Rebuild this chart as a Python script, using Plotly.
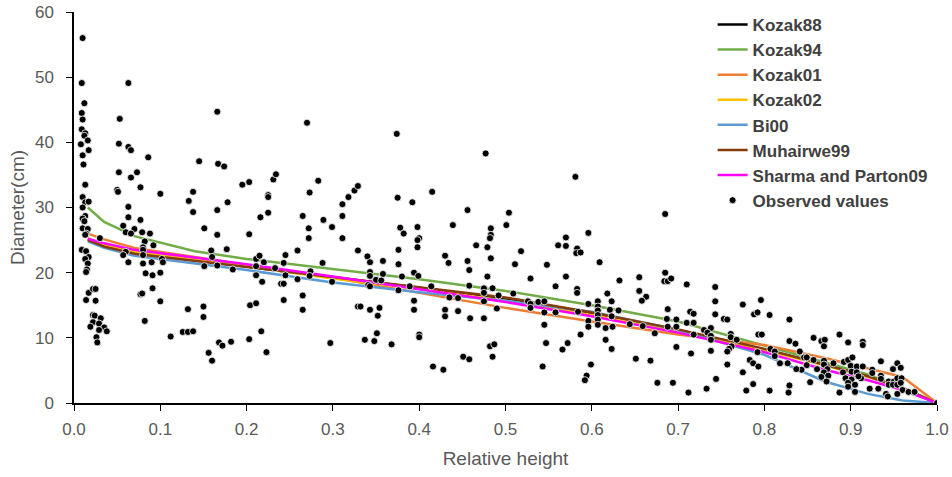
import plotly.graph_objects as go

# ---------------- data ----------------
model_h = [0.016, 0.035, 0.07, 0.14, 0.2, 0.3, 0.4, 0.5, 0.6, 0.7, 0.8, 0.87, 0.92, 0.96, 1.0]
kozak88 = [25.1, 24.1, 23.0, 21.9, 20.9, 19.3, 17.7, 16.0, 13.8, 11.2, 8.2, 5.9, 4.1, 2.3, 0.0]
kozak94 = [30.0, 27.8, 25.6, 23.3, 22.1, 20.6, 19.0, 17.2, 15.0, 12.5, 8.8, 6.3, 4.4, 2.2, 0.0]
kozak01 = [26.0, 25.1, 23.8, 22.4, 21.2, 19.2, 16.9, 14.6, 12.5, 10.5, 8.9, 6.9, 5.3, 4.0, 0.0]
kozak02 = [25.3, 24.3, 23.2, 22.0, 21.0, 19.1, 17.5, 15.7, 13.5, 11.0, 8.1, 5.8, 4.0, 2.3, 0.0]
bi00 = [24.8, 23.8, 22.6, 21.4, 20.4, 18.5, 17.0, 15.7, 14.0, 11.2, 7.4, 3.3, 1.4, 0.4, 0.0]
muhairwe99 = [25.0, 24.0, 22.9, 21.8, 20.9, 19.3, 17.8, 16.2, 13.9, 11.3, 8.3, 5.9, 4.1, 2.3, 0.0]
sharma09 = [25.2, 24.5, 23.5, 22.3, 21.3, 19.4, 17.4, 15.5, 13.3, 10.8, 7.8, 5.1, 3.5, 2.0, 0.0]

obs_h = [
    0.010, 0.009, 0.063, 0.012, 0.009, 0.010, 0.053, 0.166, 0.009, 0.013, 0.012, 0.016, 0.008, 0.017, 0.010,
    0.052, 0.063, 0.066, 0.086, 0.145, 0.167, 0.011, 0.052, 0.073, 0.066, 0.077, 0.013, 0.100, 0.050, 0.051,
    0.138, 0.133, 0.138, 0.010, 0.013, 0.017, 0.010, 0.013, 0.010, 0.012, 0.063, 0.063, 0.077, 0.057, 0.060,
    0.070, 0.066, 0.079, 0.088, 0.151, 0.166, 0.166, 0.010, 0.016, 0.014, 0.013, 0.030, 0.009, 0.014, 0.017,
    0.013, 0.016, 0.015, 0.014, 0.082, 0.080, 0.092, 0.060, 0.057, 0.080, 0.080, 0.063, 0.080, 0.090, 0.102,
    0.103, 0.083, 0.091, 0.100, 0.091, 0.100, 0.077, 0.079, 0.082, 0.151, 0.159, 0.160, 0.166, 0.150, 0.150,
    0.132, 0.112, 0.126, 0.132, 0.138, 0.156, 0.160, 0.168, 0.017, 0.022, 0.025, 0.014, 0.025, 0.022, 0.024,
    0.031, 0.022, 0.029, 0.019, 0.035, 0.029, 0.038, 0.026, 0.027,
    0.270, 0.174, 0.195, 0.203, 0.231, 0.234, 0.283, 0.178, 0.225, 0.225, 0.273, 0.216, 0.225, 0.265, 0.272,
    0.272, 0.289, 0.299, 0.311, 0.311, 0.318, 0.325, 0.329, 0.311, 0.329, 0.203, 0.177, 0.211, 0.215, 0.220,
    0.211, 0.211, 0.218, 0.245, 0.243, 0.233, 0.245, 0.259, 0.259, 0.240, 0.243, 0.274, 0.273, 0.288, 0.299,
    0.184, 0.243, 0.265, 0.265, 0.204, 0.211, 0.329, 0.217, 0.203, 0.172, 0.182, 0.223, 0.297,
    0.374, 0.477, 0.415, 0.375, 0.392, 0.456, 0.439, 0.378, 0.382, 0.398, 0.400, 0.398, 0.398, 0.376, 0.376,
    0.340, 0.343, 0.358, 0.343, 0.343, 0.358, 0.350, 0.356, 0.341, 0.343, 0.380, 0.394, 0.399, 0.389, 0.376,
    0.414, 0.430, 0.434, 0.456, 0.458, 0.483, 0.483, 0.482, 0.479, 0.483, 0.479, 0.466, 0.458, 0.475, 0.475,
    0.485, 0.492, 0.475, 0.490, 0.435, 0.445, 0.394, 0.394, 0.430, 0.430, 0.445, 0.459, 0.475, 0.332, 0.343,
    0.354, 0.352, 0.351, 0.337, 0.348, 0.368, 0.400, 0.400, 0.416, 0.428, 0.451, 0.458, 0.482, 0.487, 0.485,
    0.581, 0.504, 0.501, 0.570, 0.561, 0.570, 0.583, 0.582, 0.587, 0.596, 0.518, 0.511, 0.548, 0.529, 0.570,
    0.609, 0.558, 0.583, 0.583, 0.632, 0.655, 0.655, 0.509, 0.526, 0.529, 0.529, 0.538, 0.545, 0.545, 0.558,
    0.584, 0.596, 0.607, 0.607, 0.607, 0.607, 0.607, 0.607, 0.596, 0.596, 0.618, 0.623, 0.621, 0.623, 0.631,
    0.616, 0.624, 0.644, 0.545, 0.587, 0.547, 0.572, 0.566, 0.616, 0.623, 0.651, 0.543, 0.599, 0.594, 0.592,
    0.685, 0.685, 0.684, 0.688, 0.692, 0.710, 0.743, 0.663, 0.658, 0.688, 0.714, 0.718, 0.743, 0.743, 0.775,
    0.788, 0.792, 0.796, 0.806, 0.687, 0.698, 0.710, 0.718, 0.688, 0.698, 0.659, 0.673, 0.738, 0.730, 0.734,
    0.738, 0.738, 0.753, 0.757, 0.761, 0.761, 0.768, 0.793, 0.797, 0.718, 0.698, 0.715, 0.762, 0.759, 0.757,
    0.738, 0.807, 0.812, 0.812, 0.792, 0.783, 0.787, 0.793, 0.818, 0.668, 0.757, 0.775, 0.676, 0.694, 0.744,
    0.733, 0.712, 0.779, 0.787, 0.806,
    0.829, 0.829, 0.836, 0.857, 0.866, 0.870, 0.869, 0.887, 0.897, 0.914, 0.914, 0.841, 0.846, 0.849, 0.857,
    0.849, 0.843, 0.837, 0.827, 0.869, 0.869, 0.861, 0.873, 0.880, 0.892, 0.897, 0.902, 0.900, 0.907, 0.914,
    0.869, 0.874, 0.866, 0.872, 0.853, 0.891, 0.901, 0.907, 0.894, 0.901, 0.897, 0.905, 0.912, 0.909, 0.897,
    0.905, 0.887, 0.829, 0.828, 0.925, 0.925, 0.935, 0.935, 0.935, 0.922, 0.932, 0.944, 0.950, 0.954, 0.959,
    0.949, 0.954, 0.958, 0.944, 0.949, 0.954, 0.958, 0.960, 0.954, 0.941, 0.943, 0.967, 0.974, 1.000,
]
obs_d = [
    56.0, 49.1, 49.1, 46.0, 44.5, 43.5, 43.6, 44.7, 42.0, 41.4, 41.0, 40.3, 39.7, 38.8, 38.0,
    39.8, 39.3, 38.8, 37.7, 37.1, 36.7, 36.6, 35.4, 35.4, 34.6, 33.1, 33.5, 32.1, 32.7, 32.4,
    32.4, 31.0, 29.3, 31.6, 30.8, 30.9, 30.0, 28.7, 28.3, 27.9, 30.1, 28.5, 28.1, 27.2, 26.2,
    26.7, 26.0, 26.2, 26.0, 26.8, 29.6, 25.8, 26.8, 26.7, 26.0, 25.8, 25.3, 23.5, 23.3, 22.4,
    22.1, 21.4, 20.5, 20.1, 24.8, 23.9, 24.2, 23.2, 22.7, 23.5, 22.7, 21.6, 21.4, 21.6, 22.1,
    21.6, 19.9, 19.6, 20.0, 17.6, 15.6, 16.7, 16.8, 12.6, 21.0, 23.4, 22.4, 21.1, 14.8, 13.2,
    14.4, 10.2, 10.9, 10.9, 11.0, 7.7, 6.5, 9.3, 16.9, 17.5, 17.5, 15.8, 15.7, 13.5, 13.4,
    13.0, 12.4, 12.2, 11.7, 11.6, 11.2, 11.0, 10.1, 9.3,
    43.0, 36.3, 33.5, 33.9, 34.3, 35.1, 34.1, 30.8, 31.9, 31.6, 32.3, 28.5, 29.2, 28.7, 26.8,
    25.3, 28.1, 27.0, 28.7, 30.5, 31.6, 32.6, 33.3, 25.3, 23.4, 25.9, 23.6, 22.1, 22.6, 21.6,
    21.0, 19.6, 18.6, 22.7, 21.5, 20.7, 19.6, 23.4, 19.0, 18.3, 18.3, 20.2, 19.5, 21.5, 18.6,
    20.5, 15.8, 16.5, 14.3, 15.0, 15.3, 14.8, 11.0, 9.8, 8.8, 9.4, 7.8, 9.2,
    41.3, 38.3, 32.4, 31.5, 30.8, 29.6, 27.3, 26.9, 26.0, 27.0, 25.3, 25.0, 23.9, 23.5, 21.3,
    22.5, 21.6, 21.8, 20.1, 19.5, 19.8, 18.9, 18.8, 18.1, 17.9, 19.4, 20.0, 19.5, 17.9, 17.3,
    17.9, 22.6, 21.5, 21.8, 20.4, 26.8, 25.8, 25.3, 23.9, 22.2, 19.4, 24.2, 18.0, 17.6, 16.9,
    17.6, 16.5, 15.6, 14.5, 16.2, 16.1, 15.7, 14.3, 14.3, 13.3, 14.1, 13.0, 13.0, 14.8, 14.3,
    14.6, 13.4, 10.7, 9.7, 9.5, 9.0, 10.5, 10.1, 5.6, 5.1, 7.1, 6.7, 8.7, 9.0, 7.1,
    34.7, 29.2, 27.3, 25.4, 24.2, 24.1, 23.7, 23.0, 23.1, 26.1, 23.3, 21.3, 21.2, 19.1, 19.4,
    21.6, 17.9, 17.5, 16.9, 18.8, 19.3, 17.2, 16.8, 15.6, 15.2, 14.6, 15.5, 15.6, 13.9, 13.9,
    14.0, 15.2, 15.6, 14.8, 14.2, 13.5, 12.8, 12.0, 12.6, 11.7, 16.8, 15.6, 14.3, 13.3, 14.2,
    11.5, 11.7, 12.1, 12.0, 10.5, 9.2, 9.2, 8.2, 9.7, 8.3, 6.8, 5.6, 5.9, 4.2, 3.5,
    29.0, 20.0, 18.7, 18.7, 19.1, 18.2, 17.8, 16.3, 15.7, 14.4, 14.0, 13.7, 15.6, 13.6, 15.1,
    13.6, 13.9, 15.8, 13.5, 12.9, 12.8, 12.3, 12.3, 11.7, 11.7, 11.8, 10.7, 11.5, 11.2, 10.8,
    10.3, 9.7, 12.9, 12.8, 10.6, 10.1, 9.7, 10.5, 10.5, 10.5, 8.6, 7.6, 8.7, 8.3, 7.9,
    8.0, 8.3, 7.9, 7.2, 7.8, 6.6, 6.1, 5.6, 6.1, 6.5, 5.9, 4.7, 3.1, 3.1, 3.7,
    2.2, 1.6, 1.9, 2.9, 1.9,
    12.8, 9.5, 9.1, 10.0, 9.5, 9.7, 8.7, 10.5, 9.3, 9.4, 8.9, 7.9, 7.0, 7.0, 6.6,
    5.8, 5.1, 5.2, 6.1, 6.5, 5.9, 5.2, 5.2, 6.1, 6.3, 6.6, 7.0, 5.7, 5.6, 5.6,
    4.7, 4.2, 4.0, 3.3, 3.2, 4.7, 4.8, 4.7, 3.8, 3.6, 3.1, 2.8, 3.8, 4.1, 2.5,
    1.7, 1.6, 2.7, 1.6, 5.1, 4.6, 4.2, 3.7, 6.4, 2.2, 2.2, 3.3, 3.3, 3.8, 3.8,
    5.2, 6.1, 5.4, 2.8, 2.8, 2.8, 3.1, 2.0, 1.4, 1.4, 1.0, 1.7, 1.7, 0.0,
]

x_ticks = [0.0, 0.1, 0.2, 0.3, 0.4, 0.5, 0.6, 0.7, 0.8, 0.9, 1.0]
y_ticks = [0, 10, 20, 30, 40, 50, 60]

models = [
    ("Kozak88", kozak88, "#000000"),
    ("Kozak94", kozak94, "#70AD47"),
    ("Kozak01", kozak01, "#ED7D31"),
    ("Kozak02", kozak02, "#FFC000"),
    ("Bi00", bi00, "#5B9BD5"),
    ("Muhairwe99", muhairwe99, "#843C0C"),
    ("Sharma and Parton09", sharma09, "#FF00FF"),
]

fig = go.Figure()
for name, vals, col in models:
    fig.add_trace(go.Scatter(x=model_h, y=vals, mode="lines", name=name,
                             line=dict(color=col, width=2.5)))

fig.add_trace(go.Scatter(x=obs_h, y=obs_d, mode="markers", name="Observed values",
                         marker=dict(color="#000000", size=7,
                                     line=dict(color="#FFFFFF", width=0.8))))

FONT = "Liberation Sans, Arial, sans-serif"
tick_font = dict(family=FONT, size=17, color="#595959")

fig.update_layout(
    width=952, height=477,
    margin=dict(l=74, r=15, t=12, b=74, autoexpand=False),
    paper_bgcolor="white", plot_bgcolor="white",
    showlegend=True,
    legend=dict(x=0.74, y=1.013, xanchor="left", yanchor="top",
                bgcolor="rgba(0,0,0,0)", itemwidth=30,
                font=dict(family=FONT, size=17, color="#404040", weight="bold"),
                tracegroupgap=0),
    xaxis=dict(range=[0, 1], tickvals=x_ticks, ticktext=[f"{v:.1f}" for v in x_ticks],
               automargin=False, ticklabeloverflow="allow",
               showgrid=False, zeroline=False, showline=True, linecolor="#000000", linewidth=1.5,
               ticks="outside", ticklen=6, tickcolor="#000000", tickwidth=1.2,
               ticklabelstandoff=4,
               tickfont=tick_font,
               title=dict(text="Relative height", font=dict(family=FONT, size=19, color="#595959"),
                          standoff=14)),
    yaxis=dict(range=[0, 60], tickvals=y_ticks, automargin=False, ticklabeloverflow="allow",
               showgrid=False, zeroline=False, showline=True, linecolor="#000000", linewidth=1.5,
               ticks="outside", ticklen=6, tickcolor="#000000", tickwidth=1.2,
               ticklabelstandoff=9,
               tickfont=tick_font,
               title=dict(text="Diameter(cm)", font=dict(family=FONT, size=19, color="#595959"),
                          standoff=5)),
)

fig.write_html("out.html", config={"displayModeBar": False},
               post_script="document.body.style.margin='0px';")
